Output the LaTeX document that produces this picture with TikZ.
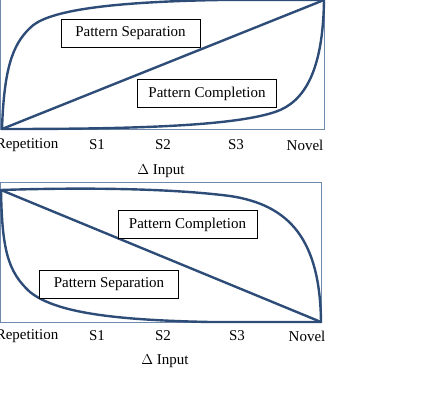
\documentclass[tikz,border=0pt]{standalone}
\usepackage{fontspec}
\setmainfont{Liberation Serif}
\begin{document}
\begin{tikzpicture}[x=1pt,y=-1pt,
  frame/.style={draw=frameblue,line width=1pt},
  curve/.style={draw=curveblue,line width=2.4pt,line cap=round,line join=round},
  labelbox/.style={draw=black,line width=1pt,fill=white,minimum width=139pt,minimum height=28pt,inner sep=0pt,font=\fontsize{15}{17}\selectfont},
  axislabel/.style={font=\fontsize{15}{17}\selectfont,inner sep=0pt}]
\definecolor{frameblue}{HTML}{6E89AC}
\definecolor{curveblue}{HTML}{2E4C78}
\useasboundingbox (0,0) rectangle (422,407);

% ---- upper panel ----
\coordinate (uo) at (2,129);   % repetition end
\coordinate (un) at (324,0);   % novel end
\draw[frame] (0.5,-3) rectangle (324,129);
% pattern completion: flat, then rising steeply at the novel end
\draw[curve] (uo) .. controls (120,129) and (230,127) .. (275,112)
             .. controls (305,102) and (323,70) .. (un);
% linear reference
\draw[curve] (uo) -- (un);
% pattern separation: rising steeply right away
\draw[curve] (uo) .. controls (4,70) and (12,45) .. (30,28)
             .. controls (45,12) and (100,2) .. (220,0) -- (un);

\node[labelbox] (usep) at (130.5,33.5) {Pattern Separation};
\node[labelbox] (ucomp) at (207,93.5) {Pattern Completion};

\node[axislabel] (urep) at (27,145) {Repetition};
\node[axislabel] (us1) at (97,145) {S1};
\node[axislabel] (us2) at (163,145) {S2};
\node[axislabel] (us3) at (236,145) {S3};
\node[axislabel] (unov) at (305,145) {Novel};
\node[axislabel] (uin) at (161,171) {$\Delta$ Input};

% ---- lower panel ----
\coordinate (lo) at (1,190);   % repetition end
\coordinate (ln) at (321,322); % novel end
\draw[frame] (0.5,182) rectangle (321,322);
% pattern completion: staying high, then dropping at the novel end
\draw[curve] (lo) .. controls (60,188) and (160,187) .. (230,196)
             .. controls (290,205) and (320,240) .. (ln);
% linear reference
\draw[curve] (lo) -- (ln);
% pattern separation: dropping right away
\draw[curve] (lo) .. controls (2,250) and (8,272) .. (30,292)
             .. controls (55,312) and (110,320) .. (210,322) -- (ln);

\node[labelbox] (lcomp) at (187.5,224.5) {Pattern Completion};
\node[labelbox] (lsep) at (109,284.5) {Pattern Separation};

\node[axislabel] (lrep) at (27,336) {Repetition};
\node[axislabel] (ls1) at (97,336) {S1};
\node[axislabel] (ls2) at (163,336) {S2};
\node[axislabel] (ls3) at (237,336) {S3};
\node[axislabel] (lnov) at (307,336) {Novel};
\node[axislabel] (lin) at (165,361) {$\Delta$ Input};
\end{tikzpicture}
\end{document}
